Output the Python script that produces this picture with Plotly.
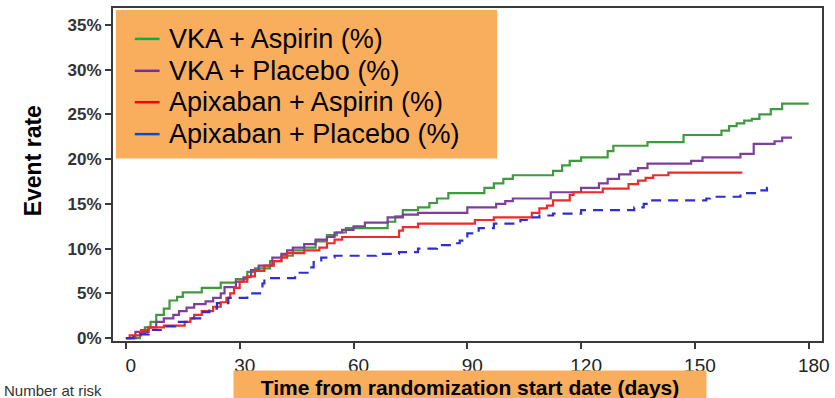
import plotly.graph_objects as go

# Kaplan-Meier style cumulative event rates (%), step points (day, rate)
vka_asp_days = [0, 3.7, 5, 6.5, 8, 10, 11.5, 13.5, 15, 20, 25, 29, 32, 34, 38, 41, 44, 47, 50, 53,
                55.6, 58, 69, 71, 73, 77, 80, 82, 85, 94.5, 97, 99.5, 102, 112.6, 115, 117, 120,
                127, 128.5, 137.5, 147, 157, 159, 161, 163, 165, 167, 170, 173, 180]
vka_asp_rate = [0, 0.5, 1.2, 1.8, 2.6, 3.3, 4.2, 4.6, 5.1, 5.6, 6.2, 6.6, 7.4, 7.8, 8.6, 9.2, 9.8, 10.1, 10.8, 11.5,
                11.8, 12.3, 13.0, 13.6, 14.3, 14.6, 15.1, 15.6, 16.2, 16.8, 17.3, 17.8, 18.2, 18.7, 19.3, 19.8, 20.2,
                20.9, 21.5, 21.9, 22.7, 23.2, 23.7, 24.0, 24.3, 24.5, 25.0, 25.6, 26.2, 26.2]

vka_pla_days = [0, 2.5, 6, 8, 10, 12.5, 14, 16, 18, 21, 23, 25, 26, 29, 31, 33, 35, 38.6, 41, 42.5,
                44, 47, 50, 53, 55, 57, 60, 63, 69, 73, 77, 90, 97.6, 100, 102, 112, 120, 124.7,
                127, 130, 133, 135, 137.5, 149, 152, 162, 165.5, 171, 173, 175.6]
vka_pla_rate = [0, 0.7, 1.2, 1.8, 2.2, 2.6, 3.0, 3.4, 3.8, 4.1, 4.5, 5.0, 5.7, 6.3, 6.8, 7.6, 8.1, 9.0, 9.4, 9.8,
                10.1, 10.5, 11.0, 11.3, 11.8, 12.1, 12.5, 12.9, 13.5, 13.8, 14.0, 14.6, 15.0, 15.3, 15.6, 16.3, 16.8, 17.3,
                17.8, 18.3, 18.7, 19.0, 19.5, 19.8, 20.2, 20.6, 21.7, 22.0, 22.4, 22.4]

apx_asp_days = [0, 1, 4, 6, 10, 15.5, 17, 18, 20, 23, 25, 26.5, 27.5, 28.5, 30, 32, 34, 36.5, 39, 41,
                42.5, 47, 51, 53, 55, 57, 72, 73, 77, 92, 97, 107, 109, 111, 112.6, 117, 118, 125.7,
                132.5, 135, 137, 139, 143, 162.5]
apx_asp_rate = [0, 0.3, 0.9, 1.2, 1.4, 1.8, 2.2, 2.6, 3.0, 3.5, 4.0, 4.5, 5.0, 5.6, 6.3, 6.9, 7.5, 8.1, 8.6, 9.0,
                9.5, 9.8, 10.1, 10.6, 11.0, 11.3, 12.0, 12.4, 12.8, 13.2, 13.5, 14.0, 14.5, 14.8, 15.4, 16.0, 16.3, 16.7,
                17.2, 17.6, 17.9, 18.2, 18.5, 18.5]

apx_pla_days = [0, 2, 6, 10, 13, 16, 20, 22, 24, 27, 32, 36, 36.5, 44.6, 45.5, 48.5, 49.5, 51.5, 55, 66,
                72, 77, 82, 86, 88, 90, 93, 97, 104, 106, 109, 112.6, 120, 134, 136.5, 138, 153, 154,
                162, 167, 169, 170]
apx_pla_rate = [0, 0.4, 0.9, 1.3, 1.8, 2.2, 2.9, 3.3, 3.9, 4.5, 5.0, 6.1, 6.7, 7.0, 7.3, 7.9, 8.5, 9.0, 9.2, 9.4,
                9.6, 10.0, 10.4, 10.6, 10.9, 11.7, 12.3, 12.8, 13.2, 13.5, 13.7, 13.9, 14.3, 14.6, 15.0, 15.4, 15.6, 15.8,
                16.2, 16.5, 16.8, 16.8]

series_names = ["VKA + Aspirin (%)", "VKA + Placebo (%)", "Apixaban + Aspirin (%)", "Apixaban + Placebo (%)"]
line_colors = ["#3f9a3f", "#7d3f9a", "#ee2a2a", "#2e2ed2"]
key_colors = ["#00b050", "#7030a0", "#ff0000", "#0050c8"]
line_dashes = ["solid", "solid", "solid", "10px,7px"]

x_ticks = [0, 30, 60, 90, 120, 150, 180]
y_ticks = [0, 5, 10, 15, 20, 25, 30, 35]

W, H = 835, 398
ML, MR, MT, MB = 113, 6, 7, 57
PW, PH = W - ML - MR, H - MT - MB


def px(x):
    return (x - ML) / PW


def py(y):
    return (H - MB - y) / PH


fig = go.Figure()
all_series = [(vka_asp_days, vka_asp_rate), (vka_pla_days, vka_pla_rate),
              (apx_asp_days, apx_asp_rate), (apx_pla_days, apx_pla_rate)]
for (d, r), name, col, dash in zip(all_series, series_names, line_colors, line_dashes):
    fig.add_trace(go.Scatter(x=d, y=r, mode="lines", name=name, showlegend=False,
                             line=dict(shape="hv", color=col, width=2.2, dash=dash),
                             hoverinfo="skip"))

# Key box drawn over the upper-left of the plot area
shapes = [dict(type="rect", xref="paper", yref="paper", x0=px(116), x1=px(501), y0=py(158), y1=py(9),
               fillcolor="#f9ae5e", line=dict(width=0), layer="above")]
annotations = []
row_y = [38, 70, 101.5, 133.5]
for name, col, ry in zip(series_names, key_colors, row_y):
    shapes.append(dict(type="line", xref="paper", yref="paper", x0=px(135), x1=px(160), y0=py(ry), y1=py(ry),
                       line=dict(color=col, width=2.5), layer="above"))
    annotations.append(dict(text=name, xref="paper", yref="paper", x=px(168), y=py(ry),
                            xanchor="left", yanchor="middle", showarrow=False,
                            font=dict(family="Liberation Sans, Arial, sans-serif", size=27, color="#000")))

# Axis titles
annotations.append(dict(text="Event rate", xref="paper", yref="paper", x=px(32), y=py(160),
                        textangle=-90, showarrow=False, xanchor="center", yanchor="middle",
                        font=dict(family="Liberation Sans, Arial, sans-serif", size=23, color="#000", weight="bold")))
annotations.append(dict(text="Time from randomization start date (days)", xref="paper", yref="paper",
                        x=px(474), y=py(387), xanchor="center", yanchor="middle", showarrow=False,
                        width=466, height=26, bgcolor="#f9ae5e", borderpad=3,
                        font=dict(family="Liberation Sans Narrow, Arial Narrow, sans-serif", size=21,
                                  color="#000", weight="bold")))
annotations.append(dict(text="Number at risk", xref="paper", yref="paper", x=px(1), y=py(391),
                        xanchor="left", yanchor="middle", showarrow=False,
                        font=dict(family="Liberation Sans Narrow, Arial Narrow, sans-serif", size=15, color="#333")))

fig.update_layout(
    width=W, height=H,
    margin=dict(l=ML, r=MR, t=MT, b=MB),
    paper_bgcolor="white", plot_bgcolor="white",
    shapes=shapes, annotations=annotations,
    showlegend=False,
)
fig.update_xaxes(range=[-3.4, 183.5], tickvals=x_ticks, ticktext=[str(v) for v in x_ticks],
                 showgrid=False, zeroline=False, showline=True, mirror=True,
                 linecolor="#3a3a3a", linewidth=2, ticks="outside", ticklen=6, tickwidth=2,
                 tickcolor="#3a3a3a", ticklabelshift=5,
                 tickfont=dict(family="Liberation Sans Narrow, Arial Narrow, sans-serif", size=19, color="#222"))
fig.update_yaxes(range=[-0.33, 36.9], tickvals=y_ticks, ticktext=[f"{v}%" for v in y_ticks],
                 showgrid=False, zeroline=False, showline=True, mirror=True,
                 linecolor="#3a3a3a", linewidth=2, ticks="outside", ticklen=6, tickwidth=2,
                 tickcolor="#3a3a3a",
                 tickfont=dict(family="Liberation Sans, Arial, sans-serif", size=17, color="#333", weight="bold"))

fig.write_html("out.html")
